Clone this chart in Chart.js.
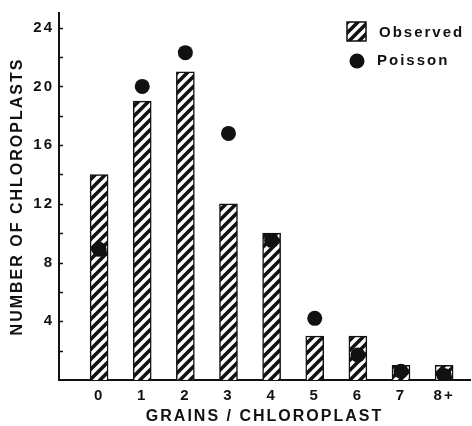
<!DOCTYPE html>
<html>
<head>
<meta charset="utf-8">
<script src="https://cdn.jsdelivr.net/npm/chart.js@4.4.1/dist/chart.umd.min.js"></script>
<style>
  html, body { margin: 0; padding: 0; background: #fff; overflow: hidden; }
  #wrap { width: 472px; height: 426px; }
  canvas { display: block; }
</style>
</head>
<body>
<div id="wrap"><canvas id="c" width="472" height="426"></canvas></div>
<script>
// ------------------------------------------------------------------
// Data
// ------------------------------------------------------------------
var categories = ['0', '1', '2', '3', '4', '5', '6', '7', '8+'];
var observed = [14, 19, 21, 12, 10, 3, 3, 1, 1];
var poisson = [8.9, 20, 22.3, 16.8, 9.5, 4.2, 1.7, 0.6, 0.3];
var yTickValues = [4, 8, 12, 16, 20, 24];
var yMinorTicks = [2, 4, 6, 8, 10, 12, 14, 16, 18, 20, 22, 24];

var INK = '#111';
var FONT = '"Liberation Sans", Arial, sans-serif';

// diagonal hatch for the observed bars
function makeHatch() {
    var s = 10;
    var p = document.createElement('canvas');
    p.width = s; p.height = s;
    var g = p.getContext('2d');
    g.fillStyle = '#fff';
    g.fillRect(0, 0, s, s);
    g.strokeStyle = INK;
    g.lineWidth = 3.6;
    g.beginPath();
    g.moveTo(-2, s + 2); g.lineTo(s + 2, -2);
    g.moveTo(-2, 2); g.lineTo(2, -2);
    g.moveTo(s - 2, s + 2); g.lineTo(s + 2, s - 2);
    g.stroke();
    return g.createPattern(p, 'repeat');
}

var ctx = document.getElementById('c').getContext('2d');
var hatch = makeHatch();

// spaced-out lettering like the original figure
var spacingPlugin = {
    id: 'spacing',
    beforeDraw: function (chart) { chart.ctx.letterSpacing = '2px'; }
};

// short tick marks pointing into the plot
var innerTicks = {
    id: 'innerTicks',
    afterDraw: function (chart) {
        var c = chart.ctx, a = chart.chartArea, y = chart.scales.y;
        c.save();
        c.strokeStyle = INK;
        c.lineWidth = 1.5;
        c.beginPath();
        yMinorTicks.forEach(function (v) {
            var py = Math.round(y.getPixelForValue(v)) + 0.5;
            c.moveTo(a.left, py);
            c.lineTo(a.left + 4, py);
        });
        c.stroke();
        c.restore();
    }
};

// legend in the top-right corner of the plot
var cornerLegend = {
    id: 'cornerLegend',
    afterDraw: function (chart) {
        var c = chart.ctx, a = chart.chartArea;
        var bx = a.right - 123, by = a.top + 9;
        c.save();
        c.fillStyle = hatch;
        c.fillRect(bx, by, 19, 19);
        c.strokeStyle = INK;
        c.lineWidth = 1.5;
        c.strokeRect(bx, by, 19, 19);

        c.fillStyle = INK;
        c.beginPath();
        c.arc(bx + 10, by + 39, 7.5, 0, Math.PI * 2);
        c.fill();

        c.font = 'bold 15px ' + FONT;
        c.textAlign = 'left';
        c.textBaseline = 'middle';
        c.fillText(chart.data.datasets[1].label, bx + 32, by + 11);
        c.fillText(chart.data.datasets[0].label, bx + 30, by + 39);
        c.restore();
    }
};

new Chart(ctx, {
    type: 'bar',
    data: {
        datasets: [{
            type: 'line',
            label: 'Poisson',
            data: poisson.map(function (v, i) { return { x: i, y: v }; }),
            showLine: false,
            pointRadius: 7.5,
            pointBackgroundColor: INK,
            pointBorderWidth: 0,
            order: 0
        }, {
            type: 'bar',
            label: 'Observed',
            data: observed.map(function (v, i) { return { x: i, y: v }; }),
            backgroundColor: hatch,
            borderColor: INK,
            borderWidth: 1.5,
            barThickness: 18,
            order: 1
        }]
    },
    options: {
        responsive: false,
        animation: false,
        layout: { autoPadding: false, padding: { top: 13, right: 2, left: 0, bottom: 0 } },
        plugins: { legend: { display: false }, tooltip: { enabled: false } },
        scales: {
            x: {
                type: 'linear',
                min: -0.93,
                max: 8.6,
                offset: false,
                grid: { display: false, drawTicks: false, offset: false },
                border: { display: true, color: INK, width: 2 },
                afterBuildTicks: function (s) {
                    s.ticks = categories.map(function (c, i) { return { value: i }; });
                },
                ticks: {
                    autoSkip: false,
                    maxRotation: 0,
                    padding: 7,
                    color: INK,
                    font: { family: FONT, size: 15, weight: 'bold' },
                    callback: function (v) { return categories[v]; }
                },
                title: {
                    display: true,
                    text: 'GRAINS / CHLOROPLAST',
                    color: INK,
                    font: { family: FONT, size: 16, weight: 'bold' },
                    padding: { top: 0, bottom: 0 }
                },
                afterFit: function (s) {
                    s.height = 46;
                    s.paddingLeft = 0;
                    s.paddingRight = 0;
                }
            },
            y: {
                min: 0,
                max: 25,
                grid: { display: false, drawTicks: false },
                border: { display: true, color: INK, width: 2 },
                afterBuildTicks: function (s) {
                    s.ticks = yTickValues.map(function (v) { return { value: v }; });
                },
                ticks: {
                    padding: 5,
                    color: INK,
                    font: { family: FONT, size: 15, weight: 'bold' }
                },
                title: {
                    display: true,
                    text: 'NUMBER OF CHLOROPLASTS',
                    color: INK,
                    font: { family: FONT, size: 16, weight: 'bold' },
                    padding: { top: 8, bottom: 0 }
                },
                afterFit: function (s) {
                    s.width = 59;
                    s.paddingTop = 0;
                    s.paddingBottom = 0;
                }
            }
        }
    },
    plugins: [spacingPlugin, innerTicks, cornerLegend]
});
</script>
</body>
</html>
